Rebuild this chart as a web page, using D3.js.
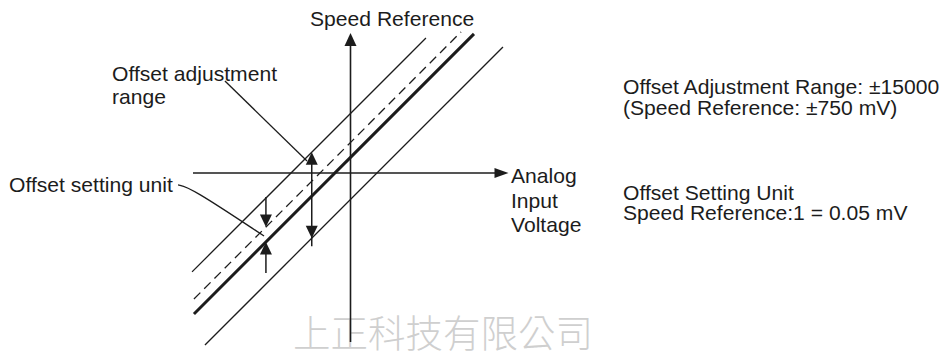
<!DOCTYPE html>
<html>
<head>
<meta charset="utf-8">
<script src="https://cdn.jsdelivr.net/npm/d3@7"></script>
<style>
  html, body { margin: 0; padding: 0; background: #fff; }
  svg { display: block; }
</style>
</head>
<body>
<svg id="chart" width="943" height="353"></svg>
<script>
// ---------- data (chart units: analog input voltage vs speed reference) ----------
const lineNames   = ["upperLimit", "offsetUnit", "reference", "lowerLimit"];
const lineStartX  = [-10.06, -9.94, -9.94, -9.24];
const lineStartY  = [-6.28, -8.00, -8.95, -10.92];
const lineEndX    = [4.79, 7.02, 7.84, 9.68];
const lineEndY    = [8.57, 8.96, 8.83, 8.00];
const lineStyles  = ["thin", "dashed", "thick", "thin"];

// axis extents (units)
const axisXRange = [-10, 10.03];
const axisYRange = [-10.73, 8.89];

// dimension arrows
const arrowX     = [-2.46, -5.37, -5.37];
const arrowYFrom = [-4.14, -1.52, -6.35];
const arrowYTo   = [1.32, -3.43, -4.38];
const arrowHeadFrom = [true, false, false];
const arrowHeadTo   = [true, true, true];

// leader lines (units)
const leaderAdjX = [-7.97, -2.76];
const leaderAdjY = [5.84, 0.76];
const leaderUnitX = [-10.95, -10.19, -5.49];
const leaderUnitY = [-0.76, -0.89, -4.00];

// text
const yAxisLabel = "Speed Reference";
const xAxisLabel = ["Analog", "Input", "Voltage"];
const adjLabel = ["Offset adjustment", "range"];
const unitLabel = ["Offset setting unit"];
const noteRange = ["Offset Adjustment Range: \u00b115000", "(Speed Reference: \u00b1750 mV)"];
const noteUnit = ["Offset Setting Unit", "Speed Reference:1 = 0.05 mV"];
const watermark = "上正科技有限公司";

// ---------- drawing ----------
const svg = d3.select("#chart");
const x = d3.scaleLinear().domain([-10, 10]).range([193, 508]);
const y = d3.scaleLinear().domain([-10, 10]).range([330.5, 15.5]);
const ink = "#1c1c1c";
const font = "'Liberation Sans', Arial, Helvetica, sans-serif";
const fs = 20.5, sx = 1.03;

// watermark (below axes)
svg.append("text")
  .attr("x", 293).attr("y", 347)
  .attr("font-family", "'Noto Sans CJK TC','Noto Sans CJK SC',sans-serif")
  .attr("font-weight", 200)
  .attr("font-size", 37.5)
  .attr("fill", "#cfcfcf")
  .text(watermark);

function arrowHead(px, py, dir, len, hw) {
  const [dx, dy] = dir;
  const bx = px - dx * len, by = py - dy * len;
  const nx = -dy, ny = dx;
  return `M${px},${py}L${bx + nx * hw},${by + ny * hw}L${bx - nx * hw},${by - ny * hw}Z`;
}

// axes
const gAx = svg.append("g");
gAx.append("line")
  .attr("x1", x(axisXRange[0])).attr("x2", x(axisXRange[1]) - 10)
  .attr("y1", y(0)).attr("y2", y(0))
  .attr("stroke", ink).attr("stroke-width", 1.6);
gAx.append("path").attr("d", arrowHead(x(axisXRange[1]), y(0), [1, 0], 14, 5)).attr("fill", ink);
gAx.append("line")
  .attr("x1", x(0)).attr("x2", x(0))
  .attr("y1", y(axisYRange[0])).attr("y2", y(axisYRange[1]) + 10)
  .attr("stroke", ink).attr("stroke-width", 1.6);
gAx.append("path").attr("d", arrowHead(x(0), y(axisYRange[1]), [0, -1], 13, 6)).attr("fill", ink);

// characteristic lines
const lineGen = d3.line().x(d => x(d[0])).y(d => y(d[1]));
lineNames.forEach((n, i) => {
  const st = lineStyles[i];
  svg.append("path")
    .attr("d", lineGen([[lineStartX[i], lineStartY[i]], [lineEndX[i], lineEndY[i]]]))
    .attr("fill", "none")
    .attr("stroke", ink)
    .attr("stroke-width", st === "thick" ? 3 : 1.3)
    .attr("stroke-dasharray", st === "dashed" ? "9,5.5" : null);
});

// dimension arrows
arrowX.forEach((ax, i) => {
  const px = x(ax), y1 = y(arrowYFrom[i]), y2 = y(arrowYTo[i]);
  const dir = y2 < y1 ? -1 : 1;
  svg.append("line")
    .attr("x1", px).attr("x2", px)
    .attr("y1", arrowHeadFrom[i] ? y1 - dir * 8 : y1)
    .attr("y2", arrowHeadTo[i] ? y2 - dir * 8 : y2)
    .attr("stroke", ink).attr("stroke-width", 1.5);
  if (arrowHeadTo[i]) svg.append("path").attr("d", arrowHead(px, y2, [0, dir], 12.5, 6)).attr("fill", ink);
  if (arrowHeadFrom[i]) svg.append("path").attr("d", arrowHead(px, y1, [0, -dir], 12.5, 6)).attr("fill", ink);
});

// leader lines
svg.append("path")
  .attr("d", lineGen(leaderAdjX.map((v, i) => [v, leaderAdjY[i]])))
  .attr("fill", "none").attr("stroke", ink).attr("stroke-width", 1.3);
svg.append("path")
  .attr("d", d3.line().curve(d3.curveBasis).x(d => x(d[0])).y(d => y(d[1]))(leaderUnitX.map((v, i) => [v, leaderUnitY[i]])))
  .attr("fill", "none").attr("stroke", ink).attr("stroke-width", 1.3);

// text helper
function label(lines, px, py, lh) {
  lines.forEach((t, i) => {
    svg.append("text")
      .attr("transform", `translate(${px},${py + i * lh}) scale(${sx},1)`)
      .attr("font-family", font).attr("font-size", fs).attr("fill", ink)
      .text(t);
  });
}
label([yAxisLabel], 310, 26, 0);
label(adjLabel, 112, 81, 23);
label(unitLabel, 9, 192, 0);
[183, 208, 232].forEach((by, i) => label([xAxisLabel[i]], 511, by, 0));
label(noteRange, 623, 94, 20.5);
label(noteUnit, 623, 199.5, 20.5);
</script>
</body>
</html>
